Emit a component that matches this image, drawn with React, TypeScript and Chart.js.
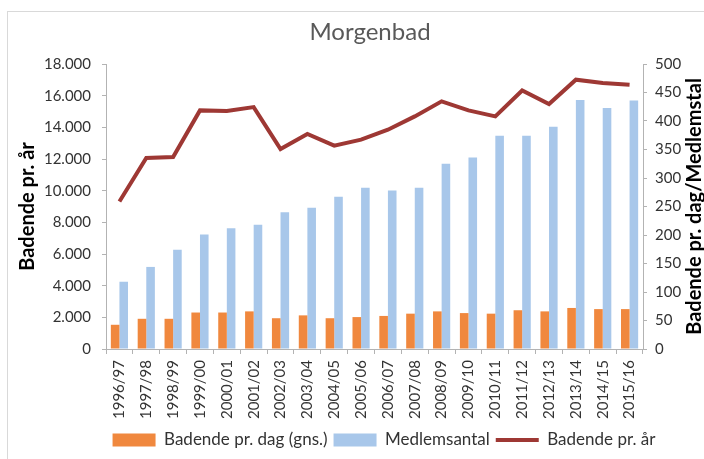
import React, { useEffect, useRef } from "react";
import { Chart, registerables } from "chart.js";

Chart.register(...registerables);

const categories = [
  "1996/97", "1997/98", "1998/99", "1999/00", "2000/01", "2001/02", "2002/03",
  "2003/04", "2004/05", "2005/06", "2006/07", "2007/08", "2008/09", "2009/10",
  "2010/11", "2011/12", "2012/13", "2013/14", "2014/15", "2015/16",
];

// Badende pr. dag (gns.) – right axis
const badendePrDag = [42.5, 53, 53, 64, 64, 66, 54, 59, 54, 56, 58, 62, 66, 63, 62, 68, 66, 72, 70, 70];
// Medlemsantal – right axis
const medlemsantal = [118, 144, 174, 201, 212, 218, 240, 248, 267, 283, 278, 283, 325, 336, 374, 374, 390, 437, 423, 436];
// Badende pr. år – left axis
const badendePrAar = [9320, 12060, 12130, 15070, 15030, 15280, 12630, 13580, 12840, 13220, 13850, 14690, 15640, 15070, 14690, 16330, 15470, 17010, 16800, 16690];

const leftMax = 18000;
const leftStep = 2000;
const rightMax = 500;
const rightStep = 50;

const FONT = "Lato";
const TICK_COLOR = "#333333";
const AXIS_COLOR = "#b3b3b3";

const fmt = (v: number) => String(v).replace(/\B(?=(\d{3})+(?!\d))/g, ".");

const rightTitlePlugin = {
  id: "rightTitle",
  afterDraw(chart: any) {
    const { ctx, chartArea } = chart;
    const scale = chart.scales.y1;
    ctx.save();
    ctx.translate(scale.right - 37, (chartArea.top + chartArea.bottom) / 2);
    ctx.rotate(-Math.PI / 2);
    ctx.font = `bold 20px ${FONT}`;
    ctx.fillStyle = "#000";
    ctx.textAlign = "center";
    ctx.textBaseline = "middle";
    ctx.fillText("Badende pr. dag/Medlemstal", 0, 0);
    ctx.restore();
  },
};

const legendShiftPlugin = {
  id: "legendShift",
  afterLayout(chart: any) {
    const lg = chart.legend;
    if (lg) {
      lg.left += 14;
      lg.right += 14;
    }
  },
};

export default function App() {
  const ref = useRef<HTMLCanvasElement | null>(null);

  useEffect(() => {
    if (!ref.current) return;
    const chart = new Chart(ref.current, {
      type: "bar",
      data: {
        labels: categories,
        datasets: [
          {
            type: "bar",
            label: "Badende pr. dag (gns.)",
            data: badendePrDag,
            backgroundColor: "#f0883e",
            borderWidth: 0,
            yAxisID: "y1",
            pointStyle: "rect",
            order: 1,
          } as any,
          {
            type: "bar",
            label: "Medlemsantal",
            data: medlemsantal,
            backgroundColor: "#a8c7ea",
            borderWidth: 0,
            yAxisID: "y1",
            pointStyle: "rect",
            order: 1,
          } as any,
          {
            type: "line",
            label: "Badende pr. år",
            data: badendePrAar,
            borderColor: "#9e3834",
            backgroundColor: "#9e3834",
            borderWidth: 4,
            pointRadius: 0,
            tension: 0,
            yAxisID: "y",
            pointStyle: "line",
            order: 0,
          } as any,
        ],
      },
      options: {
        responsive: false,
        animation: false,
        layout: { padding: { left: 0, right: 0, top: 0, bottom: 3.5 } },
        datasets: {
          bar: { categoryPercentage: 0.64, barPercentage: 1.0 },
        },
        plugins: {
          title: {
            display: true,
            text: "Morgenbad",
            color: "#595959",
            font: { family: FONT, size: 24, weight: "normal" },
            padding: { top: 5.6, bottom: 17.6 },
          },
          legend: {
            display: true,
            position: "bottom",
            labels: {
              usePointStyle: true,
              pointStyleWidth: 43,
              boxHeight: 13,
              padding: 6,
              color: TICK_COLOR,
              font: { family: FONT, size: 17 },
              sort: (a: any, b: any) => a.datasetIndex - b.datasetIndex,
            },
          },
          tooltip: { enabled: false },
        },
        scales: {
          x: {
            type: "category",
            offset: true,
            grid: {
              display: true,
              drawOnChartArea: false,
              drawTicks: true,
              tickLength: 5,
              color: AXIS_COLOR,
              offset: true,
            },
            border: { display: true, color: AXIS_COLOR },
            ticks: {
              autoSkip: false,
              minRotation: 90,
              maxRotation: 90,
              padding: 6,
              color: TICK_COLOR,
              font: { family: FONT, size: 15 },
            },
            afterFit: (s: any) => {
              s.height = 76.5;
            },
          },
          y: {
            type: "linear",
            position: "left",
            min: 0,
            max: leftMax,
            grid: {
              display: true,
              drawOnChartArea: false,
              drawTicks: true,
              tickLength: 4,
              color: AXIS_COLOR,
            },
            border: { display: true, color: AXIS_COLOR },
            ticks: {
              stepSize: leftStep,
              padding: 11,
              color: TICK_COLOR,
              font: { family: FONT, size: 15 },
              callback: (v: any) => fmt(Number(v)),
            },
            title: {
              display: true,
              text: "Badende pr. år",
              color: "#000",
              font: { family: FONT, size: 20, weight: "bold" },
              padding: { top: 7.5, bottom: 0 },
            },
            afterFit: (s: any) => {
              s.width = 98;
            },
          },
          y1: {
            type: "linear",
            position: "right",
            min: 0,
            max: rightMax,
            grid: {
              display: true,
              drawOnChartArea: false,
              drawTicks: true,
              tickLength: 4,
              color: AXIS_COLOR,
            },
            border: { display: true, color: AXIS_COLOR },
            ticks: {
              stepSize: rightStep,
              padding: 8,
              color: TICK_COLOR,
              font: { family: FONT, size: 15 },
            },
            afterFit: (s: any) => {
              s.width = 89;
            },
          },
        },
      },
      plugins: [rightTitlePlugin, legendShiftPlugin],
    } as any);
    return () => chart.destroy();
  }, []);

  return (
    <div
      style={{
        position: "fixed",
        left: 0,
        top: 0,
        width: 704,
        height: 459,
        overflow: "hidden",
        background: "#fff",
      }}
    >
      <div
        style={{
          position: "absolute",
          left: 7,
          top: 11,
          width: 724,
          height: 452,
          border: "1px solid #d9d9d9",
          background: "#fff",
        }}
      >
        <canvas ref={ref} width={724} height={450} style={{ display: "block" }} />
      </div>
    </div>
  );
}
